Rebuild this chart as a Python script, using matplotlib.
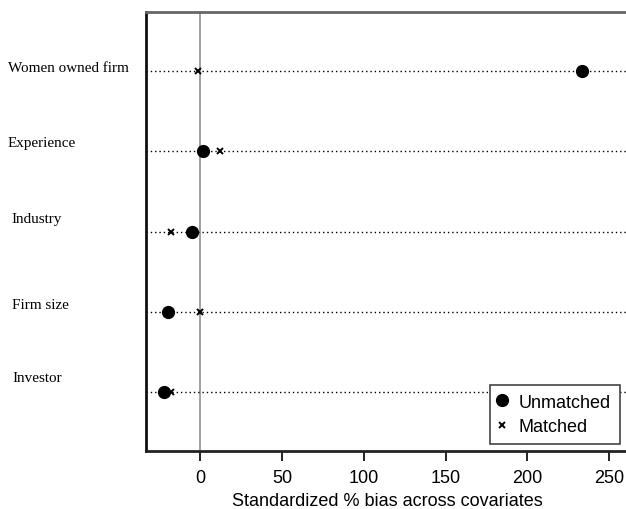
import matplotlib.pyplot as plt

# Datos
covariables = ['Women owned firm', 'Experience', 'Industry', 'Firm size', 'Investor']
unmatched = [233.5, 2.0, -5.0, -19.5, -22.0]
matched = [-1.5, 12.5, -18.0, 0.0, -18.0]

fig = plt.figure(figsize=(6.26, 5.10), dpi=100)
ax = fig.add_axes([146 / 626, 58 / 510, 483 / 626, 439 / 510])

ypos = [5, 4, 3, 2, 1]

# lineas punteadas por covariable
for y in ypos:
    ax.plot([-33, 262], [y, y], color='black', lw=1.0, linestyle=(0, (1, 2.1)), zorder=1)

ax.axvline(0, color='#a0a0a0', lw=1.4, zorder=0)

ax.plot(unmatched, ypos, 'o', color='black', markersize=8.5, linestyle='none',
        label='Unmatched', zorder=3)
ax.plot(matched, ypos, 'x', color='black', markersize=5, mew=1.4, linestyle='none',
        label='Matched', zorder=3)

ax.set_xlim(-33, 262)
ax.set_ylim(0.27, 5.73)
ax.set_xticks([0, 50, 100, 150, 200, 250])
ax.set_yticks([])
ax.tick_params(axis='x', direction='out', length=7, width=1.4, labelsize=13,
               color='#222222', pad=6)
for lab in ax.get_xticklabels():
    lab.set_fontfamily('Liberation Sans')
ax.set_xlabel('Standardized % bias across covariates', fontsize=13,
              fontfamily='Liberation Sans', labelpad=4)

ax.spines['left'].set_linewidth(2)
ax.spines['left'].set_color('#111111')
ax.spines['bottom'].set_linewidth(2)
ax.spines['bottom'].set_color('#222222')
ax.spines['top'].set_linewidth(2)
ax.spines['top'].set_color('#666666')
ax.spines['right'].set_visible(False)

# etiquetas de las covariables (a la izquierda, en serif)
label_y = [68, 143, 220, 306, 379]
label_x = [8, 8, 11, 12, 12]
for txt, yy, xx in zip(covariables, label_y, label_x):
    fig.text(xx / 626, 1 - yy / 510, txt, fontsize=10.9, fontfamily='Liberation Serif',
             ha='left', va='center')

leg = ax.legend(loc='lower right', bbox_to_anchor=(620 / 626, 65 / 510),
                bbox_transform=fig.transFigure, borderaxespad=0, fancybox=False,
                edgecolor='#444444', framealpha=1, prop={'family': 'Liberation Sans', 'size': 13},
                handletextpad=0.8, handlelength=0.3, borderpad=0.5, labelspacing=0.4)
leg.get_frame().set_linewidth(1.2)

fig.savefig('out.png', dpi=100)
